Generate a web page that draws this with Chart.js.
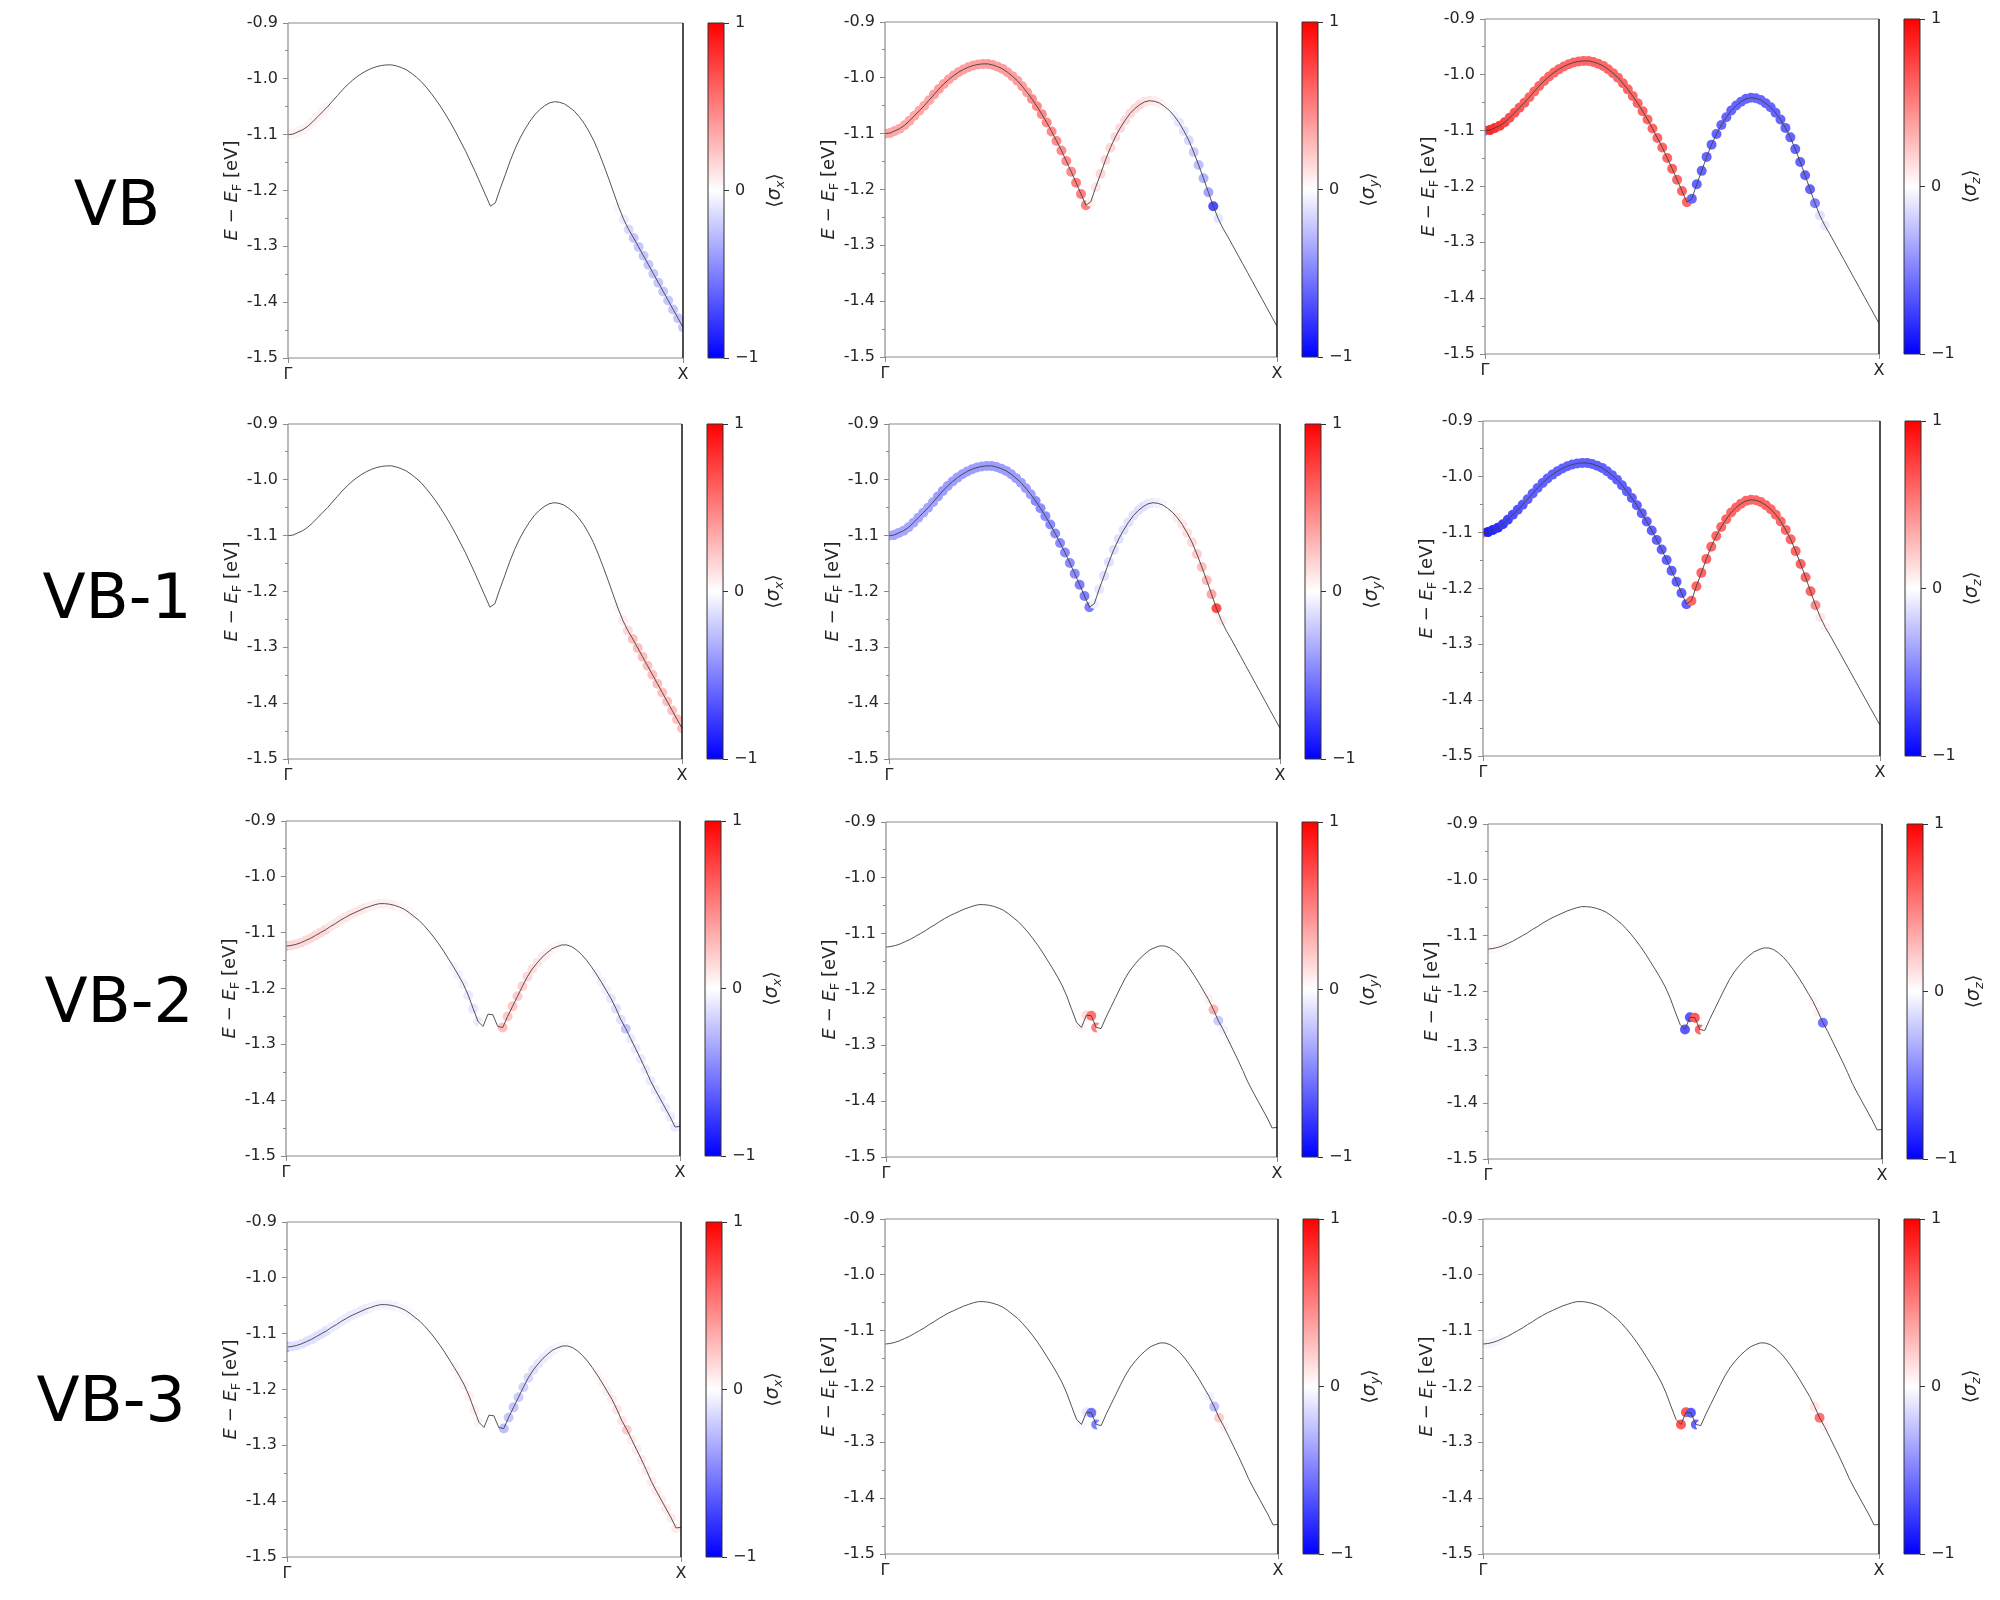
<!DOCTYPE html>
<html>
<head>
<meta charset="utf-8">
<script src="https://cdn.jsdelivr.net/npm/chart.js@4.4.1/dist/chart.umd.min.js"></script>
<style>
html,body{margin:0;padding:0;background:#fff;}
#fig{position:relative;width:2000px;height:1600px;overflow:hidden;background:#fff;}
#fig canvas{position:absolute;}
.rowlab{position:absolute;font-family:'DejaVu Sans',sans-serif;font-size:63px;line-height:1;color:#000;transform:translate(-50%,-50%);white-space:nowrap;}
</style>
</head>
<body>
<div id="fig"></div>
<script>
// ---------------- DATA ----------------
const kPath = [
  0, 0.0125, 0.025, 0.0375, 0.05, 0.0625, 0.075, 0.0875, 0.1, 0.1125,
  0.125, 0.1375, 0.15, 0.1625, 0.175, 0.1875, 0.2, 0.2125, 0.225, 0.2375,
  0.25, 0.2625, 0.275, 0.2875, 0.3, 0.3125, 0.325, 0.3375, 0.35, 0.3625,
  0.375, 0.3875, 0.4, 0.4125, 0.425, 0.4375, 0.45, 0.4625, 0.475, 0.4875,
  0.5, 0.5125, 0.525, 0.5375, 0.55, 0.5625, 0.575, 0.5875, 0.6, 0.6125,
  0.625, 0.6375, 0.65, 0.6625, 0.675, 0.6875, 0.7, 0.7125, 0.725, 0.7375,
  0.75, 0.7625, 0.775, 0.7875, 0.8, 0.8125, 0.825, 0.8375, 0.85, 0.8625,
  0.875, 0.8875, 0.9, 0.9125, 0.925, 0.9375, 0.95, 0.9625, 0.975, 0.9875,
  1
];
const kTickPos = [0, 1];
const kTickLabels = ['Γ', 'X'];
const yTickValues = [-1.5, -1.4, -1.3, -1.2, -1.1, -1.0, -0.9];
const yTickLabels = ['-1.5', '-1.4', '-1.3', '-1.2', '-1.1', '-1.0', '-0.9'];
const yMinorValues = [-1.45, -1.35, -1.25, -1.15, -1.05, -0.95];
const yRange = [-1.5, -0.9];

// band energies (eV) for VB / VB-1 (same curve) and VB-2 / VB-3 (same curve)
const bandVB = [
  -1.100, -1.099, -1.095, -1.091, -1.085, -1.077, -1.068, -1.059, -1.050, -1.040,
  -1.030, -1.020, -1.011, -1.003, -0.996, -0.990, -0.985, -0.981, -0.978, -0.976,
  -0.975, -0.975, -0.977, -0.980, -0.984, -0.990, -0.997, -1.005, -1.015, -1.026,
  -1.038, -1.051, -1.065, -1.080, -1.096, -1.113, -1.130, -1.149, -1.168, -1.188,
  -1.208, -1.228, -1.222, -1.196, -1.172, -1.147, -1.125, -1.106, -1.090, -1.076,
  -1.064, -1.055, -1.048, -1.043, -1.041, -1.042, -1.045, -1.051, -1.058, -1.068,
  -1.080, -1.095, -1.112, -1.133, -1.156, -1.180, -1.205, -1.230, -1.252, -1.270,
  -1.285, -1.301, -1.317, -1.333, -1.349, -1.365, -1.381, -1.397, -1.413, -1.429,
  -1.445
];
const bandVB2 = [
  -1.124, -1.123, -1.121, -1.118, -1.114, -1.110, -1.105, -1.100, -1.095, -1.089,
  -1.084, -1.078, -1.073, -1.068, -1.064, -1.060, -1.056, -1.053, -1.050, -1.048,
  -1.048, -1.049, -1.051, -1.054, -1.058, -1.064, -1.071, -1.078, -1.087, -1.097,
  -1.108, -1.120, -1.133, -1.147, -1.161, -1.176, -1.192, -1.212, -1.236, -1.259,
  -1.268, -1.246, -1.247, -1.268, -1.270, -1.250, -1.232, -1.214, -1.196, -1.179,
  -1.165, -1.154, -1.144, -1.136, -1.129, -1.125, -1.122, -1.122, -1.125, -1.131,
  -1.139, -1.149, -1.161, -1.174, -1.188, -1.203, -1.218, -1.236, -1.256, -1.272,
  -1.290, -1.308, -1.326, -1.345, -1.365, -1.382, -1.398, -1.414, -1.430, -1.448,
  -1.447
];

// spin expectation values per k-point
const sxVB = [
  0.05, 0.05, 0.05, 0.05, 0.05, 0.05, 0.05, 0.05, 0.05, 0,
  0, 0, 0, 0, 0, 0, 0, 0, 0, 0,
  0, 0, 0, 0, 0, 0, 0, 0, 0, 0,
  0, 0, 0, 0, 0, 0, 0, 0, 0, 0,
  0, 0, 0, 0, 0, 0, 0, 0, 0, 0,
  0, 0, 0, 0, 0, 0, 0, 0, 0, 0,
  0, 0, 0, 0, 0, 0, 0, -0.03, -0.08, -0.15,
  -0.22, -0.22, -0.22, -0.22, -0.22, -0.22, -0.22, -0.22, -0.22, -0.22,
  -0.22
];
const syVB = [
  0.35, 0.35, 0.35, 0.35, 0.35, 0.35, 0.35, 0.35, 0.35, 0.35,
  0.38, 0.38, 0.38, 0.38, 0.38, 0.38, 0.38, 0.38, 0.38, 0.38,
  0.38, 0.38, 0.38, 0.38, 0.38, 0.38, 0.38, 0.38, 0.38, 0.38,
  0.45, 0.45, 0.45, 0.45, 0.45, 0.45, 0.45, 0.45, 0.45, 0.5,
  0.5, 0.5, 0.05, 0.1, 0.15, 0.15, 0.15, 0.15, 0.15, 0.15,
  0.15, 0.15, 0.15, 0.12, 0.1, 0.08, 0.06, 0.03, 0, -0.05,
  -0.1, -0.12, -0.15, -0.2, -0.25, -0.3, -0.35, -0.7, -0.1, 0,
  0, 0, 0, 0, 0, 0, 0, 0, 0, 0,
  0
];
const szVB = [
  -0.5, 0.85, 0.82, 0.78, 0.74, 0.7, 0.67, 0.65, 0.63, 0.6,
  0.6, 0.6, 0.6, 0.6, 0.6, 0.6, 0.6, 0.6, 0.6, 0.6,
  0.6, 0.6, 0.6, 0.6, 0.6, 0.6, 0.6, 0.6, 0.6, 0.6,
  0.6, 0.6, 0.6, 0.6, 0.6, 0.6, 0.6, 0.6, 0.6, 0.6,
  0.6, 0.6, -0.6, -0.6, -0.6, -0.6, -0.6, -0.6, -0.6, -0.6,
  -0.6, -0.6, -0.6, -0.6, -0.6, -0.6, -0.6, -0.6, -0.6, -0.6,
  -0.6, -0.6, -0.6, -0.6, -0.6, -0.6, -0.6, -0.5, -0.12, -0.08,
  0, 0, 0, 0, 0, 0, 0, 0, 0, 0,
  0
];
const sxVB1 = [
  0, 0, 0, 0, 0, 0, 0, 0, 0, 0,
  0, 0, 0, 0, 0, 0, 0, 0, 0, 0,
  0, 0, 0, 0, 0, 0, 0, 0, 0, 0,
  0, 0, 0, 0, 0, 0, 0, 0, 0, 0,
  0, 0, 0, 0, 0, 0, 0, 0, 0, 0,
  0, 0, 0, 0, 0, 0, 0, 0, 0, 0,
  0, 0, 0, 0, 0, 0, 0, 0.03, 0.08, 0.15,
  0.25, 0.25, 0.25, 0.25, 0.25, 0.25, 0.25, 0.25, 0.25, 0.25,
  0.25
];
const syVB1 = [
  -0.35, -0.35, -0.35, -0.35, -0.35, -0.35, -0.35, -0.35, -0.35, -0.35,
  -0.38, -0.38, -0.38, -0.38, -0.38, -0.38, -0.38, -0.38, -0.38, -0.38,
  -0.38, -0.38, -0.38, -0.38, -0.38, -0.38, -0.38, -0.38, -0.38, -0.38,
  -0.45, -0.45, -0.45, -0.45, -0.45, -0.45, -0.45, -0.45, -0.45, -0.5,
  -0.5, -0.5, -0.05, -0.1, -0.12, -0.12, -0.12, -0.12, -0.12, -0.12,
  -0.12, -0.12, -0.12, -0.1, -0.08, -0.06, -0.04, 0, 0.04, 0.08,
  0.1, 0.12, 0.15, 0.2, 0.25, 0.28, 0.35, 0.7, 0.08, 0,
  0, 0, 0, 0, 0, 0, 0, 0, 0, 0,
  0
];
const szVB1 = [
  0.6, -0.88, -0.85, -0.82, -0.78, -0.74, -0.7, -0.68, -0.66, -0.62,
  -0.62, -0.62, -0.62, -0.62, -0.62, -0.62, -0.62, -0.62, -0.62, -0.62,
  -0.62, -0.62, -0.62, -0.62, -0.62, -0.62, -0.62, -0.62, -0.62, -0.62,
  -0.62, -0.62, -0.62, -0.62, -0.62, -0.62, -0.62, -0.62, -0.62, -0.62,
  -0.62, -0.62, 0.6, 0.6, 0.6, 0.6, 0.6, 0.6, 0.6, 0.6,
  0.6, 0.6, 0.6, 0.6, 0.6, 0.6, 0.6, 0.6, 0.6, 0.6,
  0.6, 0.6, 0.6, 0.6, 0.6, 0.6, 0.6, 0.45, 0.1, 0.05,
  0, 0, 0, 0, 0, 0, 0, 0, 0, 0,
  0
];
const sxVB2 = [
  0.3, 0.15, 0.15, 0.15, 0.15, 0.15, 0.15, 0.15, 0.15, 0.1,
  0.1, 0.1, 0.1, 0.1, 0.1, 0.1, 0.1, 0.06, 0.06, 0.06,
  0.06, 0.06, 0.06, 0.03, 0.03, 0.03, 0.03, 0, 0, 0,
  0, 0, 0, 0, -0.04, -0.05, -0.06, -0.08, -0.1, -0.08,
  0, 0, 0, 0, 0.25, 0.22, 0.22, 0.2, 0.18, 0.15,
  0.12, 0.1, 0.08, 0.06, 0.05, 0.03, 0.03, 0.02, 0, 0,
  0, 0, 0, -0.04, -0.05, -0.06, -0.1, -0.12, -0.12, -0.22,
  -0.08, -0.08, -0.08, -0.08, -0.08, -0.08, -0.08, -0.08, -0.08, -0.08,
  -0.06
];
const syVB2 = [
  0, 0, 0, 0, 0, 0, 0, 0, 0, 0,
  0, 0, 0, 0, 0, 0, 0, 0, 0, 0,
  0, 0, 0, 0, 0, 0, 0, 0, 0, 0,
  0, 0, 0, 0, 0, 0, 0, 0, 0, 0,
  0.05, 0.12, 0.55, 0.5, 0, 0, 0, 0, 0, 0,
  0, 0, 0, 0, 0, 0, 0, 0, 0, 0,
  0, 0, 0, 0, 0, 0.03, 0.06, 0.3, -0.2, -0.05,
  -0.03, 0, 0, 0, 0, 0, 0, 0, 0, 0,
  0
];
const szVB2 = [
  0.03, 0.03, 0.03, 0.03, 0.03, 0, 0, 0, 0, 0,
  0, 0, 0, 0, 0, 0, 0, 0, 0, 0,
  0, 0, 0, 0, 0, 0, 0, 0, 0, 0,
  0, 0, 0, 0, 0, 0, 0, 0, 0, 0,
  -0.65, -0.65, 0.65, 0.6, 0, 0, 0, 0, 0, 0,
  0, 0, 0, 0, 0, 0, 0, 0, 0, 0,
  0, 0, 0, 0, 0, 0, 0.05, 0.05, -0.55, 0,
  0, 0, 0, 0, 0, 0, 0, 0, 0, 0,
  0
];
const sxVB3 = [
  -0.4, -0.12, -0.12, -0.12, -0.12, -0.12, -0.12, -0.12, -0.12, -0.08,
  -0.08, -0.08, -0.08, -0.08, -0.08, -0.08, -0.08, -0.05, -0.05, -0.05,
  -0.05, -0.05, -0.05, -0.03, -0.03, -0.03, -0.03, 0, 0, 0,
  0, 0, 0, 0, 0.03, 0.04, 0.05, 0.06, 0.06, 0.05,
  0, 0, 0, 0, -0.25, -0.22, -0.22, -0.2, -0.18, -0.15,
  -0.12, -0.1, -0.08, -0.06, -0.05, -0.03, -0.03, -0.02, 0, 0,
  0, 0, 0, 0.04, 0.05, 0.06, 0.08, 0.1, 0.1, 0.2,
  0.08, 0.08, 0.08, 0.08, 0.08, 0.08, 0.08, 0.08, 0.08, 0.08,
  0.06
];
const syVB3 = [
  0, 0, 0, 0, 0, 0, 0, 0, 0, 0,
  0, 0, 0, 0, 0, 0, 0, 0, 0, 0,
  0, 0, 0, 0, 0, 0, 0, 0, 0, 0,
  0, 0, 0, 0, 0, 0, 0, 0, 0, 0,
  -0.03, -0.08, -0.55, -0.5, 0, 0, 0, 0, 0, 0,
  0, 0, 0, 0, 0, 0, 0, 0, 0, 0,
  0, 0, 0, 0, 0, 0, -0.05, -0.25, 0.2, 0.05,
  0, 0, 0, 0, 0, 0, 0, 0, 0, 0,
  0
];
const szVB3 = [
  -0.04, -0.04, -0.04, -0.04, -0.04, 0, 0, 0, 0, 0,
  0, 0, 0, 0, 0, 0, 0, 0, 0, 0,
  0, 0, 0, 0, 0, 0, 0, 0, 0, 0,
  0, 0, 0, 0, 0, 0, 0, 0, 0, 0,
  0.65, 0.65, -0.65, -0.6, 0, 0, 0, 0, 0, 0,
  0, 0, 0, 0, 0, 0, 0, 0, 0, 0,
  0, 0, 0, 0, 0, 0, 0, 0.1, 0.55, 0.05,
  0, 0, 0, 0, 0, 0, 0, 0, 0, 0,
  0
];

const rowLabels = ['VB', 'VB-1', 'VB-2', 'VB-3'];
const rowBands = [bandVB, bandVB, bandVB2, bandVB2];
const rowSpins = [
  [sxVB, syVB, szVB],
  [sxVB1, syVB1, szVB1],
  [sxVB2, syVB2, szVB2],
  [sxVB3, syVB3, szVB3]
];
const spinComponents = ['x', 'y', 'z'];
const cbTicks = [-1, 0, 1];
const cbTickLabels = ['\u22121', '0', '1'];
const yTitleParts = [
  {t: 'E', italic: true}, {t: ' \u2212 '}, {t: 'E', italic: true}, {t: 'F', sub: true}, {t: ' [eV]'}
];

// ---------------- LAYOUT / STYLE ----------------
const LAYOUT = {
  panels: [ // [left, top, right, bottom]
    [[288, 23, 683, 358], [885, 22, 1277, 357], [1485, 19, 1879, 354]],
    [[288, 424, 682, 759], [889, 424, 1280, 759], [1483, 421, 1880, 756]],
    [[286, 821, 680, 1156], [886, 822, 1277, 1157], [1488, 824, 1882, 1159]],
    [[287, 1222, 681, 1557], [885, 1219, 1278, 1554], [1483, 1219, 1879, 1554]]
  ],
  rowLabelPos: [[117, 203], [117, 596], [119, 1000], [111, 1399]],
  cbGap: 25, cbWidth: 16,
  yTitleOffset: 57, cbLabelOffset: 49
};
const FONT_FAMILY = "'DejaVu Sans', 'Noto Sans', sans-serif";
const TICK_FONT = {family: FONT_FAMILY, size: 16};
const TEXT_COLOR = '#262626';
const SPINE_COLOR = '#8a8a8a';
const MARKER_RADIUS = 5;

function bwr(v) {
  const t = Math.max(-1, Math.min(1, v));
  let r, g, b;
  if (t < 0) { r = 1 + t; g = 1 + t; b = 1; } else { r = 1; g = 1 - t; b = 1 - t; }
  return 'rgb(' + Math.round(r * 255) + ',' + Math.round(g * 255) + ',' + Math.round(b * 255) + ')';
}

function drawRich(ctx, parts, cx, cy, size, color) {
  ctx.save();
  ctx.translate(cx, cy);
  ctx.rotate(-Math.PI / 2);
  const fontOf = p => (p.italic ? 'italic ' : '') + (p.sub ? Math.round(size * 0.7) : size) + 'px ' + FONT_FAMILY;
  let total = 0;
  const ws = parts.map(p => { ctx.font = fontOf(p); const w = ctx.measureText(p.t).width; total += w; return w; });
  let x = -total / 2;
  ctx.fillStyle = color;
  ctx.textAlign = 'left';
  ctx.textBaseline = 'alphabetic';
  const base = size * 0.36;
  parts.forEach((p, i) => {
    ctx.font = fontOf(p);
    ctx.fillText(p.t, x, base + (p.sub ? size * 0.2 : 0));
    x += ws[i];
  });
  ctx.restore();
}

function framePlugin(colors, widths) {
  return {
    id: 'frame',
    afterDraw(chart) {
      const a = chart.chartArea, ctx = chart.ctx;
      ctx.save();
      const seg = (x1, y1, x2, y2, c, w) => {
        ctx.strokeStyle = c; ctx.lineWidth = w;
        ctx.beginPath(); ctx.moveTo(x1, y1); ctx.lineTo(x2, y2); ctx.stroke();
      };
      seg(a.left, a.top, a.right, a.top, colors.top, widths.top);
      seg(a.left, a.bottom, a.right, a.bottom, colors.bottom, widths.bottom);
      seg(a.left, a.top, a.left, a.bottom, colors.left, widths.left);
      seg(a.right, a.top, a.right, a.bottom, colors.right, widths.right);
      ctx.restore();
    }
  };
}

const fig = document.getElementById('fig');

function makeCanvas(left, top, w, h) {
  const c = document.createElement('canvas');
  c.width = w; c.height = h;
  c.style.width = w + 'px'; c.style.height = h + 'px';
  c.style.left = left + 'px'; c.style.top = top + 'px';
  fig.appendChild(c);
  return c;
}

function makePanel(r, c) {
  const box = LAYOUT.panels[r][c];
  const plotW = box[2] - box[0], plotH = box[3] - box[1];
  const PADL = 110, PADT = 20, PADR = 20, PADB = 40;
  const canvas = makeCanvas(box[0] - PADL, box[1] - PADT, plotW + PADL + PADR, plotH + PADT + PADB);
  const band = rowBands[r];
  const spin = rowSpins[r][c];
  const pts = kPath.map((k, i) => ({x: k, y: band[i]}));
  new Chart(canvas, {
    type: 'scatter',
    data: {
      datasets: [
        {type: 'line', data: pts, xAxisID: 'x', yAxisID: 'y', borderColor: '#404040', borderWidth: 0.9,
         pointRadius: 0, tension: 0, fill: false, clip: 0, order: 0},
        {type: 'scatter', data: pts, xAxisID: 'x', yAxisID: 'y', pointRadius: MARKER_RADIUS, pointHoverRadius: MARKER_RADIUS,
         pointBackgroundColor: spin.map(bwr), pointBorderWidth: 0, clip: 0, order: 1}
      ]
    },
    options: {
      responsive: false, animation: false, devicePixelRatio: 1,
      events: [],
      layout: {padding: {left: 0, top: PADT, right: PADR, bottom: 0}},
      plugins: {legend: {display: false}, tooltip: {enabled: false}},
      scales: {
        x: {
          type: 'linear', position: 'bottom', min: 0, max: 1,
          afterBuildTicks: ax => { ax.ticks = kTickPos.map(v => ({value: v})); },
          afterFit: s => { s.height = PADB; },
          ticks: {callback: (v, i) => kTickLabels[i], font: TICK_FONT, color: TEXT_COLOR, padding: 2,
                  maxRotation: 0, autoSkip: false},
          grid: {drawOnChartArea: false, tickLength: 5, tickColor: SPINE_COLOR, tickWidth: 1},
          border: {display: false}
        },
        y: {
          type: 'linear', position: 'left', weight: 1, min: yRange[0], max: yRange[1],
          afterBuildTicks: ax => { ax.ticks = yTickValues.map(v => ({value: v})); },
          afterFit: s => { s.width = PADL; },
          ticks: {callback: (v, i) => yTickLabels[i], font: TICK_FONT, color: TEXT_COLOR, padding: 5, autoSkip: false},
          grid: {drawOnChartArea: false, tickLength: 5, tickColor: SPINE_COLOR, tickWidth: 1},
          border: {display: false}
        },
        yMinor: {
          type: 'linear', position: 'left', weight: 0, min: yRange[0], max: yRange[1],
          afterBuildTicks: ax => { ax.ticks = yMinorValues.map(v => ({value: v})); },
          afterFit: s => { s.width = 0; },
          ticks: {display: false},
          grid: {drawOnChartArea: false, tickLength: 3, tickColor: SPINE_COLOR, tickWidth: 1},
          border: {display: false}
        }
      }
    },
    plugins: [
      framePlugin({top: SPINE_COLOR, bottom: SPINE_COLOR, left: SPINE_COLOR, right: '#151515'},
                  {top: 1.2, bottom: 1.2, left: 1.2, right: 1.5}),
      {id: 'ytitle', afterDraw(chart) {
        const a = chart.chartArea;
        drawRich(chart.ctx, yTitleParts, a.left - LAYOUT.yTitleOffset, (a.top + a.bottom) / 2, 18, TEXT_COLOR);
      }}
    ]
  });
}

function makeColorbar(r, c) {
  const box = LAYOUT.panels[r][c];
  const left = box[2] + LAYOUT.cbGap, w = LAYOUT.cbWidth, top = box[1], h = box[3] - box[1];
  const PADL = 10, PADT = 20, PADB = 20, AXW = 80;
  const canvas = makeCanvas(left - PADL, top - PADT, PADL + w + AXW, h + PADT + PADB);
  const labelParts = [{t: '\u27E8'}, {t: '\u03C3', italic: true}, {t: spinComponents[c], sub: true, italic: true}, {t: '\u27E9'}];
  new Chart(canvas, {
    type: 'bar',
    data: {
      labels: [''],
      datasets: [{
        data: [[cbTicks[0], cbTicks[cbTicks.length - 1]]],
        barPercentage: 1, categoryPercentage: 1, borderWidth: 0,
        backgroundColor: (ctx) => {
          const a = ctx.chart.chartArea;
          if (!a) return '#fff';
          const g = ctx.chart.ctx.createLinearGradient(0, a.bottom, 0, a.top);
          g.addColorStop(0, bwr(-1));
          g.addColorStop(0.5, bwr(0));
          g.addColorStop(1, bwr(1));
          return g;
        }
      }]
    },
    options: {
      responsive: false, animation: false, devicePixelRatio: 1,
      events: [],
      layout: {padding: {left: PADL, top: PADT, right: 0, bottom: PADB}},
      plugins: {legend: {display: false}, tooltip: {enabled: false}},
      scales: {
        x: {display: false},
        y: {
          position: 'right', min: cbTicks[0], max: cbTicks[cbTicks.length - 1],
          afterBuildTicks: ax => { ax.ticks = cbTicks.map(v => ({value: v})); },
          afterFit: s => { s.width = AXW; },
          ticks: {callback: (v, i) => cbTickLabels[i], font: TICK_FONT, color: TEXT_COLOR, padding: 6, autoSkip: false},
          grid: {drawOnChartArea: false, tickLength: 5, tickColor: '#333', tickWidth: 1},
          border: {display: false}
        }
      }
    },
    plugins: [
      framePlugin({top: '#333', bottom: '#333', left: '#333', right: '#333'}, {top: 1, bottom: 1, left: 1, right: 1}),
      {id: 'cblabel', afterDraw(chart) {
        const a = chart.chartArea;
        drawRich(chart.ctx, labelParts, a.right + LAYOUT.cbLabelOffset, (a.top + a.bottom) / 2, 19, TEXT_COLOR);
      }}
    ]
  });
}

for (let r = 0; r < rowLabels.length; r++) {
  const d = document.createElement('div');
  d.className = 'rowlab';
  d.textContent = rowLabels[r];
  d.style.left = LAYOUT.rowLabelPos[r][0] + 'px';
  d.style.top = LAYOUT.rowLabelPos[r][1] + 'px';
  fig.appendChild(d);
  for (let c = 0; c < 3; c++) {
    makePanel(r, c);
    makeColorbar(r, c);
  }
}
</script>
</body>
</html>
